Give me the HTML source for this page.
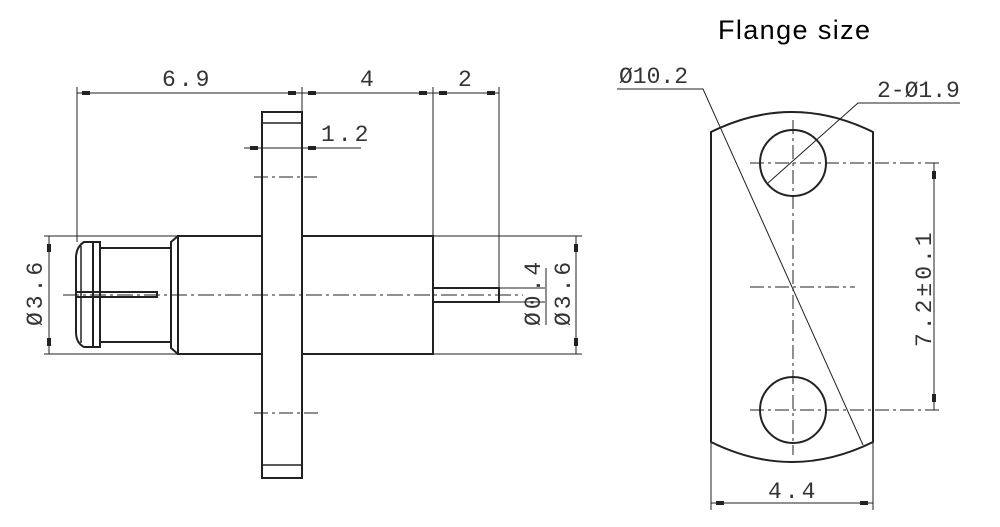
<!DOCTYPE html>
<html><head><meta charset="utf-8"><style>
html,body{margin:0;padding:0;background:#fff;}
svg{display:block;}
.t{font-family:"Liberation Mono","DejaVu Sans Mono",monospace;font-size:23px;fill:#333;}
.s{letter-spacing:3px;}
</style></head><body>
<svg width="1000" height="527" viewBox="0 0 1000 527" xmlns="http://www.w3.org/2000/svg">
<rect width="1000" height="527" fill="#fff"/>
<text x="718" y="39" font-family="Liberation Sans, sans-serif" font-size="27" fill="#000" textLength="152">Flange size</text>
<g stroke="#222" fill="none" stroke-width="1">
 <line x1="77" y1="87" x2="77" y2="242"/>
 <line x1="302" y1="87" x2="302" y2="112"/>
 <line x1="433" y1="87" x2="433" y2="236"/>
 <line x1="499" y1="87" x2="499" y2="288"/>
 <line x1="77" y1="93" x2="499" y2="93"/>
 <rect x="262" y="112" width="40" height="366" stroke-width="2"/>
 <line x1="262" y1="123" x2="302" y2="123" stroke-width="1.5"/>
 <line x1="262" y1="465" x2="302" y2="465" stroke-width="1.5"/>
 <line x1="244" y1="148" x2="361" y2="148"/>
 <line x1="254" y1="177" x2="317" y2="177" stroke-dasharray="14,4,3,4"/>
 <line x1="254" y1="413" x2="320" y2="413" stroke-dasharray="14,4,3,4"/>
 <g stroke-width="2">
 <path d="M262 236 H178 V354 H262"/>
 <path d="M302 236 H433 V354 H302"/>
 <path d="M178 236 L171 242 V348 L178 354"/>
 <path d="M171 248 H100 V342 H171"/>
 <path d="M100 242 H84 Q76 247 76 258 V332 Q76 343 84 347 H100 Z"/>
 <line x1="81" y1="246" x2="81" y2="343" stroke-width="1.5"/>
 <line x1="93" y1="242" x2="93" y2="347"/>
 <path d="M76 292 H157 V297 H76"/>
 <rect x="433" y="288" width="66" height="14"/>
 </g>
 <line x1="63" y1="295" x2="523" y2="295" stroke-dasharray="16,4,3,4"/>
 <line x1="44" y1="236" x2="178" y2="236"/>
 <line x1="44" y1="354" x2="178" y2="354"/>
 <line x1="49" y1="236" x2="49" y2="354"/>
 <line x1="433" y1="236" x2="582" y2="236"/>
 <line x1="433" y1="354" x2="582" y2="354"/>
 <line x1="576" y1="236" x2="576" y2="354"/>
 <line x1="499" y1="288" x2="545" y2="288"/>
 <line x1="499" y1="302" x2="545" y2="302"/>
 <line x1="546" y1="268" x2="546" y2="325"/>
 <path d="M711 132 Q792 92 873 132 V442 Q792 482 711 442 Z" stroke-width="2"/>
 <circle cx="793" cy="163" r="33" stroke-width="2"/>
 <circle cx="793" cy="410" r="33" stroke-width="2"/>
 <line x1="793" y1="120" x2="793" y2="455" stroke-dasharray="14,4,3,4"/>
 <line x1="750" y1="163" x2="942" y2="163" stroke-dasharray="14,4,3,4"/>
 <line x1="750" y1="410" x2="942" y2="410" stroke-dasharray="14,4,3,4"/>
 <line x1="750" y1="287" x2="855" y2="287" stroke-dasharray="14,4,3,4"/>
 <line x1="934" y1="163" x2="934" y2="410"/>
 <path d="M617 89 H703 L863 445"/>
 <path d="M960 103 H858 L768 183"/>
 <line x1="711" y1="442" x2="711" y2="510"/>
 <line x1="873" y1="442" x2="873" y2="510"/>
 <line x1="711" y1="503" x2="873" y2="503"/>
</g>
<g fill="#222">
 <rect x="82" y="91" width="8" height="4"/><rect x="288" y="91" width="8" height="4"/>
 <rect x="308" y="91" width="8" height="4"/><rect x="419" y="91" width="8" height="4"/>
 <rect x="439" y="91" width="8" height="4"/><rect x="487" y="91" width="8" height="4"/>
 <rect x="250" y="146" width="8" height="4"/><rect x="308" y="146" width="8" height="4"/>
 <rect x="47" y="244" width="4" height="8"/><rect x="47" y="338" width="4" height="8"/>
 <rect x="574" y="244" width="4" height="8"/><rect x="574" y="338" width="4" height="8"/>
 <rect x="932" y="171" width="4" height="8"/><rect x="932" y="394" width="4" height="8"/>
 <rect x="716" y="501" width="8" height="4"/><rect x="860" y="501" width="8" height="4"/>
</g>
<g class="t">
 <text class="s" x="162" y="86">6.9</text>
 <text x="360" y="86">4</text>
 <text x="458" y="86">2</text>
 <text class="s" x="321" y="141">1.2</text>
 <text class="s" transform="translate(42,326) rotate(-90)">Ø3.6</text>
 <text class="s" transform="translate(540,326) rotate(-90)">Ø0.4</text>
 <text class="s" transform="translate(570,326) rotate(-90)">Ø3.6</text>
 <text x="619" y="83">Ø10.2</text>
 <text x="877" y="97">2-Ø1.9</text>
 <text class="s" transform="translate(931,347) rotate(-90)">7.2±0.1</text>
 <text class="s" x="768" y="498">4.4</text>
</g>
</svg>
</body></html>
